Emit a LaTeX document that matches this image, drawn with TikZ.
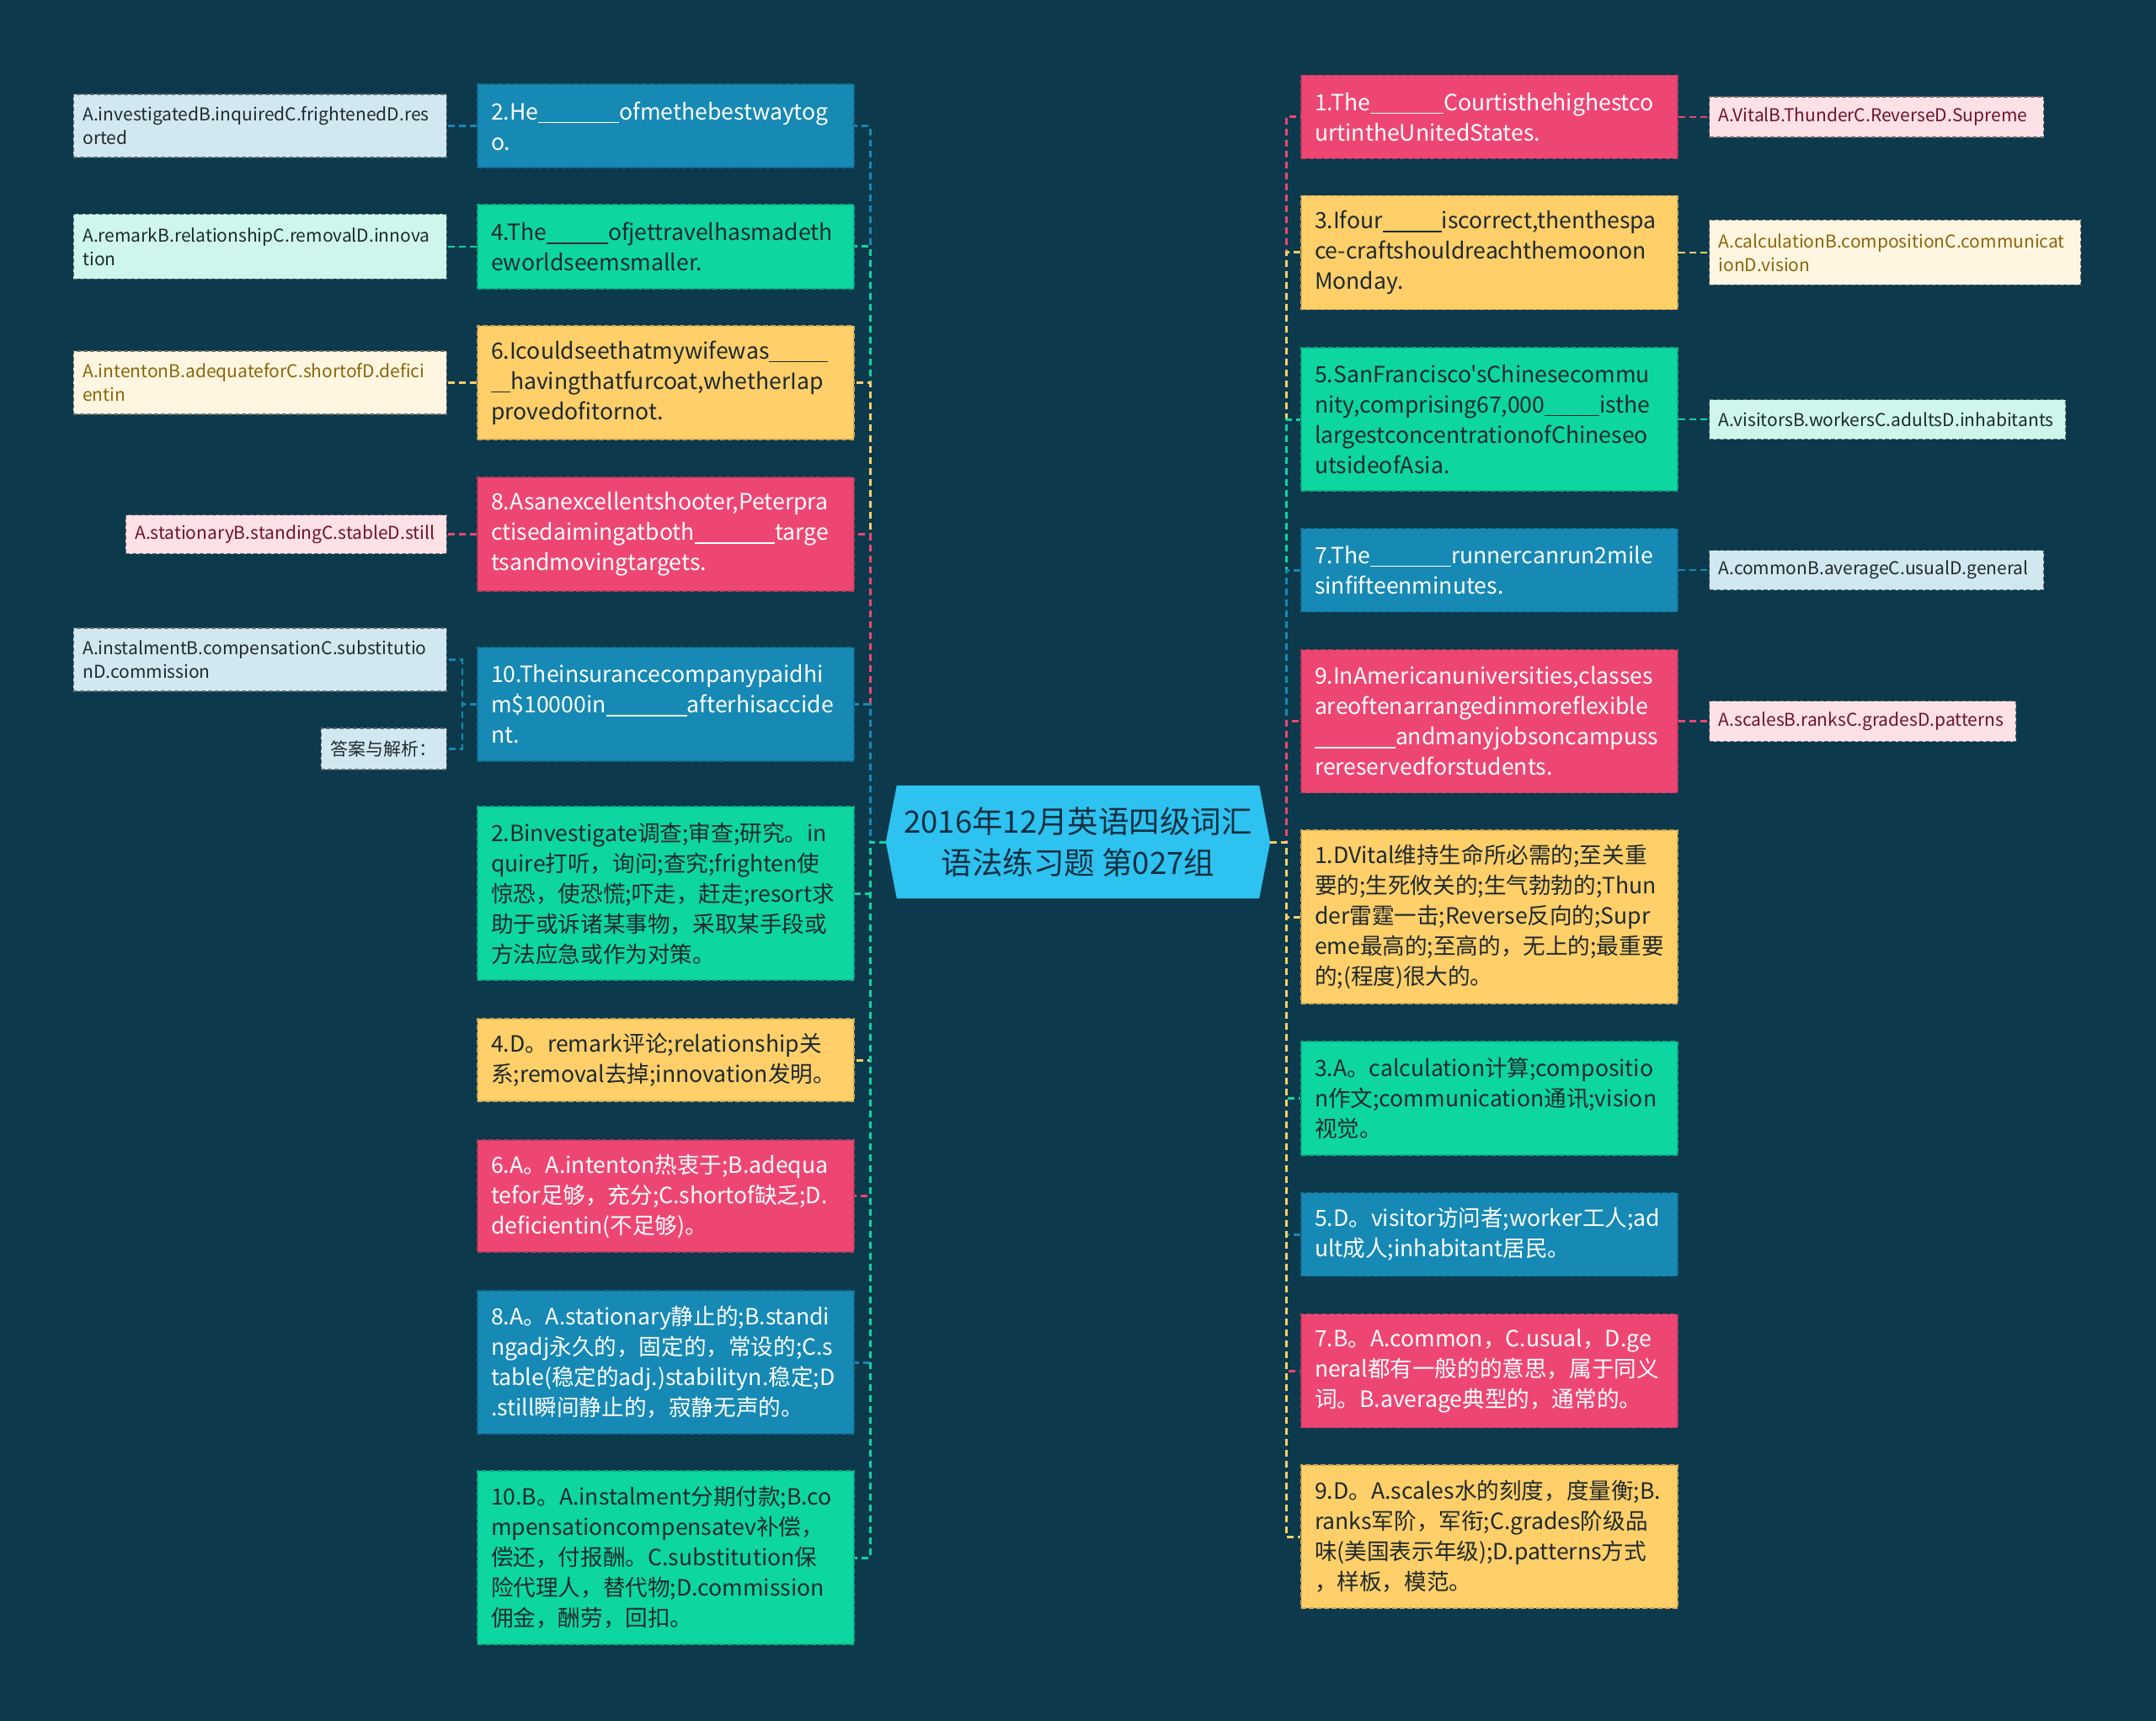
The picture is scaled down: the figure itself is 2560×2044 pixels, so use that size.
\documentclass[tikz,border=0pt]{standalone}
\usepackage{fontspec}
\setmainfont{Noto Sans CJK SC}
\newfontfamily\cjkf{Noto Sans CJK SC}
\hyphenpenalty=10000
\exhyphenpenalty=10000
\definecolor{bgc}{RGB}{12,58,76}
\definecolor{cBlue}{RGB}{22,137,181}
\definecolor{cMint}{RGB}{13,214,160}
\definecolor{cYellow}{RGB}{255,207,105}
\definecolor{cPink}{RGB}{238,70,114}
\definecolor{cTitle}{RGB}{46,194,240}
\definecolor{tTitle}{RGB}{16,48,66}
\definecolor{tDark}{RGB}{30,42,46}
\definecolor{oBlue}{RGB}{210,232,240}
\definecolor{oMint}{RGB}{206,246,236}
\definecolor{oCream}{RGB}{255,246,226}
\definecolor{oPink}{RGB}{252,225,231}
\definecolor{tCream}{RGB}{139,101,8}
\definecolor{tPinkD}{RGB}{110,20,40}
\newcommand\myqfont{\cjkf\fontsize{26.6}{36}\selectfont}
\newcommand\myofont{\cjkf\fontsize{21}{27.8}\selectfont}
\newcommand\mytfont{\cjkf\fontsize{36.5}{49}\selectfont}
\newcommand\blnk[1]{\rule[-4pt]{#1}{1.5pt}}
\tikzset{
  qb/.style={rectangle, text width=415pt, inner xsep=16pt, inner ysep=0pt,
    align=left, font=\myqfont, line width=1.5pt, dash pattern=on 6pt off 3pt},
  qBlue/.style={fill=cBlue, draw=cBlue!80!black, text=white},
  qMint/.style={fill=cMint, draw=cMint!80!black, text=tDark},
  qYellow/.style={fill=cYellow, draw=cYellow!80!black, text=tDark},
  qPink/.style={fill=cPink, draw=cPink!80!black, text=white},
  ob/.style={rectangle, inner xsep=11pt, inner ysep=0pt, align=left,
    font=\myofont, line width=1.3pt, dash pattern=on 5pt off 3pt},
  oBl/.style={fill=oBlue, draw=oBlue!45!black, text=tDark},
  oMi/.style={fill=oMint, draw=oMint!45!black, text=tDark},
  oCr/.style={fill=oCream, draw=oCream!45!black, text=tCream},
  oPi/.style={fill=oPink, draw=oPink!45!black, text=tPinkD},
  conn/.style={draw=#1, line width=3pt, dash pattern=on 8pt off 5pt},
  oconn/.style={draw=#1, line width=2.5pt, dash pattern=on 8pt off 5pt},
}
\begin{document}
\begin{tikzpicture}[x=1pt,y=-1pt]
\fill[bgc] (0,0) rectangle (2560,2044);
\useasboundingbox (0,0) rectangle (2560,2044);

% title
\node[rectangle, minimum width=456pt, minimum height=134pt, inner sep=0pt] (T) at (1280,1000) {};
\fill[cTitle] (T.west) -- ([xshift=13pt]T.north west) -- ([xshift=-13pt]T.north east)
  -- (T.east) -- ([xshift=-13pt]T.south east) -- ([xshift=13pt]T.south west) -- cycle;
\node[align=center, font=\mytfont, text=tTitle] (TT) at (T.center) {2016年12月英语四级词汇\\语法练习题 第027组};

\coordinate (LT) at (1033,1000);
\coordinate (RT) at (1527,1000);

% left questions
\node[qb, qBlue, minimum height=99pt] (Q2) at (790.5,149.5) {2.He\blnk{96pt}ofmethebestwaytog\\o.};
\node[qb, qMint, minimum height=100pt] (Q4) at (790.5,293) {4.The\blnk{73pt}ofjettravelhasmadeth\\eworldseemsmaller.};
\node[qb, qYellow, minimum height=135pt] (Q6) at (790.5,454.5) {6.Icouldseethatmywifewas\blnk{70pt}\\\blnk{23pt}havingthatfurcoat,whetherIap\\provedofitornot.};
\node[qb, qPink, minimum height=135pt] (Q8) at (790.5,634.5) {8.Asanexcellentshooter,Peterpra\\ctisedaimingatboth\blnk{95pt}targe\\tsandmovingtargets.};
\node[qb, qBlue, minimum height=135pt] (Q10) at (790.5,836.5) {10.Theinsurancecompanypaidhi\\m\$10000in\blnk{96pt}afterhisaccide\\nt.};
\node[qb, qMint, minimum height=206pt] (A2) at (790.5,1061) {2.Binvestigate调查;审查;研究。in\\quire打听，询问;查究;frighten使\\惊恐，使恐慌;吓走，赶走;resort求\\助于或诉诸某事物，采取某手段或\\方法应急或作为对策。};
\node[qb, qYellow, minimum height=98pt] (A4) at (790.5,1259) {4.D。remark评论;relationship关\\系;removal去掉;innovation发明。};
\node[qb, qPink, minimum height=133pt] (A6) at (790.5,1420.5) {6.A。A.intenton热衷于;B.adequa\\tefor足够，充分;C.shortof缺乏;D.\\deficientin(不足够)。};
\node[qb, qBlue, minimum height=170pt] (A8) at (790.5,1618) {8.A。A.stationary静止的;B.standi\\ngadj永久的，固定的，常设的;C.s\\table(稳定的adj.)stabilityn.稳定;D\\.still瞬间静止的，寂静无声的。};
\node[qb, qMint, minimum height=206pt] (A10) at (790.5,1850) {10.B。A.instalment分期付款;B.co\\mpensationcompensatev补偿，\\偿还，付报酬。C.substitution保\\险代理人，替代物;D.commission\\佣金，酬劳，回扣。};

% right questions
\node[qb, qPink, minimum height=99pt] (Q1) at (1768.5,139) {1.The\blnk{87pt}Courtisthehighestco\\urtintheUnitedStates.};
\node[qb, qYellow, minimum height=135pt] (Q3) at (1768.5,300) {3.Ifour\blnk{70pt}iscorrect,thenthespa\\ce-craftshouldreachthemoonon\\Monday.};
\node[qb, qMint, minimum height=170pt] (Q5) at (1768.5,498) {5.SanFrancisco'sChinesecommu\\nity,comprising67,000\blnk{65pt}isthe\\largestconcentrationofChineseo\\utsideofAsia.};
\node[qb, qBlue, minimum height=99pt] (Q7) at (1768.5,677) {7.The\blnk{96pt}runnercanrun2mile\\sinfifteenminutes.};
\node[qb, qPink, minimum height=170pt] (Q9) at (1768.5,856.5) {9.InAmericanuniversities,classes\\areoftenarrangedinmoreflexible\\\blnk{96pt}andmanyjobsoncampuss\\rereservedforstudents.};
\node[qb, qYellow, minimum height=206pt] (A1) at (1768.5,1089) {1.DVital维持生命所必需的;至关重\\要的;生死攸关的;生气勃勃的;Thun\\der雷霆一击;Reverse反向的;Supr\\eme最高的;至高的，无上的;最重要\\的;(程度)很大的。};
\node[qb, qMint, minimum height=135pt] (A3) at (1768.5,1304.5) {3.A。calculation计算;compositio\\n作文;communication通讯;vision\\视觉。};
\node[qb, qBlue, minimum height=99pt] (A5) at (1768.5,1466) {5.D。visitor访问者;worker工人;ad\\ult成人;inhabitant居民。};
\node[qb, qPink, minimum height=135pt] (A7) at (1768.5,1628) {7.B。A.common，C.usual，D.ge\\neral都有一般的的意思，属于同义\\词。B.average典型的，通常的。};
\node[qb, qYellow, minimum height=170pt] (A9) at (1768.5,1825) {9.D。A.scales水的刻度，度量衡;B.\\ranks军阶，军衔;C.grades阶级品\\味(美国表示年级);D.patterns方式\\，样板，模范。};

% left options
\node[ob, oBl, anchor=east, text width=421pt, minimum height=75pt] (O2) at (531,149.5) {A.investigatedB.inquiredC.frightenedD.res\\orted};
\node[ob, oMi, anchor=east, text width=421pt, minimum height=77pt] (O4) at (531,293) {A.remarkB.relationshipC.removalD.innova\\tion};
\node[ob, oCr, anchor=east, text width=421pt, minimum height=75pt] (O6) at (531,454.5) {A.intentonB.adequateforC.shortofD.defici\\entin};
\node[ob, oPi, anchor=east, text width=359pt, minimum height=46pt] (O8) at (531,634.5) {A.stationaryB.standingC.stableD.still};
\node[ob, oBl, anchor=east, text width=421pt, minimum height=75pt] (O10) at (531,783.5) {A.instalmentB.compensationC.substitutio\\nD.commission};
\node[ob, oBl, anchor=east, text width=127pt, minimum height=49pt] (AJ) at (531,889.5) {答案与解析：};

% right options
\node[ob, oPi, anchor=west, text width=375pt, minimum height=48pt] (O1) at (2029,139) {A.VitalB.ThunderC.ReverseD.Supreme};
\node[ob, oCr, anchor=west, text width=419pt, minimum height=77pt] (O3) at (2029,300) {A.calculationB.compositionC.communicat\\ionD.vision};
\node[ob, oMi, anchor=west, text width=401pt, minimum height=47pt] (O5) at (2029,498) {A.visitorsB.workersC.adultsD.inhabitants};
\node[ob, oBl, anchor=west, text width=375pt, minimum height=47pt] (O7) at (2029,677) {A.commonB.averageC.usualD.general};
\node[ob, oPi, anchor=west, text width=342pt, minimum height=48pt] (O9) at (2029,856.5) {A.scalesB.ranksC.gradesD.patterns};

% left trunk connectors
\draw[conn=cBlue] (T.west) -- (LT) |- (Q2.east);
\draw[conn=cMint] (T.west) -- (LT) |- (Q4.east);
\draw[conn=cYellow] (T.west) -- (LT) |- (Q6.east);
\draw[conn=cPink] (T.west) -- (LT) |- (Q8.east);
\draw[conn=cBlue] (T.west) -- (LT) |- (Q10.east);
\draw[conn=cMint] (T.west) -- (LT) |- (A2.east);
\draw[conn=cYellow] (T.west) -- (LT) |- (A4.east);
\draw[conn=cPink] (T.west) -- (LT) |- (A6.east);
\draw[conn=cBlue] (T.west) -- (LT) |- (A8.east);
\draw[conn=cMint] (T.west) -- (LT) |- (A10.east);

% right trunk connectors
\draw[conn=cPink] (T.east) -- (RT) |- (Q1.west);
\draw[conn=cYellow] (T.east) -- (RT) |- (Q3.west);
\draw[conn=cMint] (T.east) -- (RT) |- (Q5.west);
\draw[conn=cBlue] (T.east) -- (RT) |- (Q7.west);
\draw[conn=cPink] (T.east) -- (RT) |- (Q9.west);
\draw[conn=cYellow] (T.east) -- (RT) |- (A1.west);
\draw[conn=cMint] (T.east) -- (RT) |- (A3.west);
\draw[conn=cBlue] (T.east) -- (RT) |- (A5.west);
\draw[conn=cPink] (T.east) -- (RT) |- (A7.west);
\draw[conn=cYellow] (T.east) -- (RT) |- (A9.west);

% option connectors
\draw[oconn=cBlue] (Q2.west) -- (O2.east);
\draw[oconn=cMint] (Q4.west) -- (O4.east);
\draw[oconn=cYellow] (Q6.west) -- (O6.east);
\draw[oconn=cPink] (Q8.west) -- (O8.east);
\coordinate (B10) at (549,836.5);
\draw[oconn=cBlue] (Q10.west) -- (B10) |- (O10.east);
\draw[oconn=cBlue] (Q10.west) -- (B10) |- (AJ.east);
\draw[oconn=cPink] (Q1.east) -- (O1.west);
\draw[oconn=cYellow] (Q3.east) -- (O3.west);
\draw[oconn=cMint] (Q5.east) -- (O5.west);
\draw[oconn=cBlue] (Q7.east) -- (O7.west);
\draw[oconn=cPink] (Q9.east) -- (O9.west);
\end{tikzpicture}
\end{document}
